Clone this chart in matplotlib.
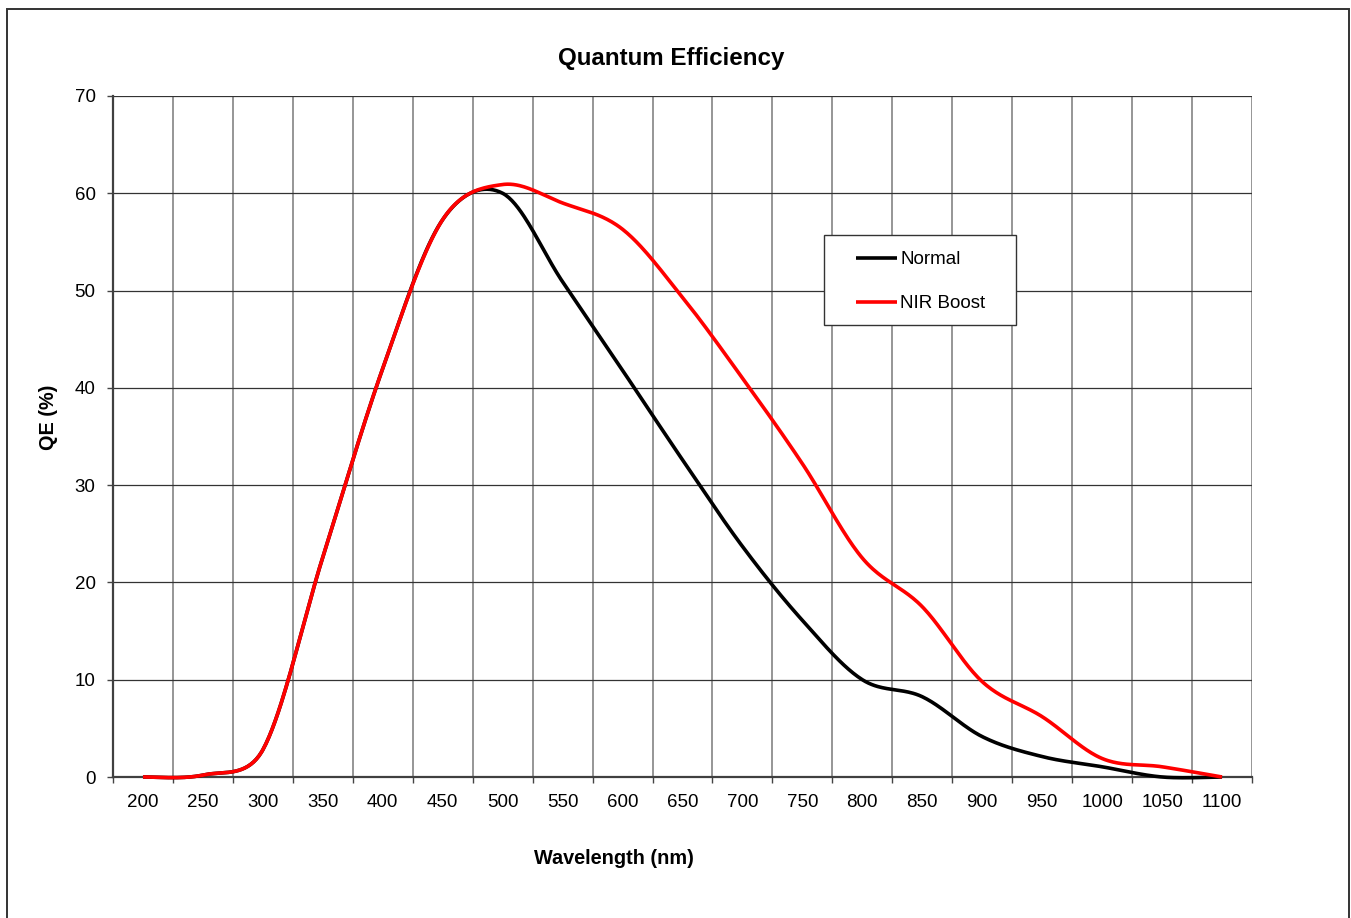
"""Quantum efficiency curves for the Normal and NIR Boost sensor variants."""

import numpy as np
import matplotlib.pyplot as plt
from matplotlib.patches import Rectangle
from matplotlib.ticker import MultipleLocator, FixedLocator

plt.rcParams['font.family'] = ['Liberation Sans', 'DejaVu Sans']

# Wavelength categories (nm) and QE values (%) for each variant
wavelength = [200, 250, 300, 350, 400, 450, 500, 550, 600, 650,
              700, 750, 800, 850, 900, 950, 1000, 1050, 1100]
qe_normal = [0.0, 0.2, 2.8, 22.6, 42.0, 57.3, 60.0, 50.9, 41.8, 32.6,
             23.7, 16.1, 10.0, 8.25, 4.15, 2.1, 1.05, 0.0, 0.0]
qe_nir = [0.0, 0.2, 2.8, 22.6, 42.0, 57.3, 60.9, 59.0, 56.3, 49.3,
          41.0, 32.2, 22.5, 17.5, 9.8, 6.2, 1.9, 1.05, 0.0]
series_names = ['Normal', 'NIR Boost']
series_colors = ['black', '#ff0000']


def smooth_curve(ax, x, y, steps=40):
    """Spreadsheet-style smoothed line: cubic Bezier segments built in screen
    space, control arms at 1/6 of the neighbour span but never longer than
    half of the segment itself."""
    pts = ax.transData.transform(np.column_stack([x, y]).astype(float))
    n = len(pts)
    t = np.linspace(0, 1, steps)[:, None]
    out = []
    for i in range(n - 1):
        p1, p2 = pts[i], pts[i + 1]
        p0 = pts[i - 1] if i > 0 else p1
        p3 = pts[i + 2] if i + 2 < n else p2
        d12 = np.hypot(*(p2 - p1))
        d02 = np.hypot(*(p2 - p0))
        d13 = np.hypot(*(p3 - p1))
        f0 = 1 / 6 if d02 / 6 < d12 / 2 else d12 / (2 * d02)
        f3 = 1 / 6 if d13 / 6 < d12 / 2 else d12 / (2 * d13)
        c1 = p1 + f0 * (p2 - p0)
        c2 = p2 - f3 * (p3 - p1)
        seg = ((1 - t) ** 3) * p1 + 3 * ((1 - t) ** 2) * t * c1 \
            + 3 * (1 - t) * t ** 2 * c2 + t ** 3 * p2
        out.append(seg if i == 0 else seg[1:])
    out = ax.transData.inverted().transform(np.vstack(out))
    return out[:, 0], out[:, 1]


W, H = 1351, 918
fig = plt.figure(figsize=(W / 100, H / 100), dpi=100)
ax = fig.add_axes([113 / W, 1 - 777 / H, (1252 - 113) / W, (777 - 96) / H])
ax.set_xlim(175, 1125)
ax.set_ylim(0, 70)

for name, vals, col in zip(series_names, [qe_normal, qe_nir], series_colors):
    sx, sy = smooth_curve(ax, wavelength, vals)
    ax.plot(sx, sy, color=col, lw=2.6, label=name, zorder=3,
            solid_capstyle='butt', clip_on=False)

# labels sit on the categories, gridlines fall between them
ax.xaxis.set_major_locator(FixedLocator(wavelength))
ax.xaxis.set_minor_locator(MultipleLocator(50, offset=25))
ax.yaxis.set_major_locator(MultipleLocator(10))
ax.tick_params(axis='x', which='major', length=0, pad=12, labelsize=13.5)
ax.tick_params(axis='x', which='minor', length=4.5, width=1, color='#444444',
               direction='out')
ax.tick_params(axis='y', which='major', length=4.5, width=1, color='#444444',
               pad=8, labelsize=13.5, direction='out')

ax.grid(True, axis='x', which='minor', color='#969696', lw=1.4)
ax.grid(True, axis='y', which='major', color='#333333', lw=0.9)
ax.set_axisbelow(True)

for side in ['top', 'right']:
    ax.spines[side].set_visible(False)
for side in ['left', 'bottom']:
    ax.spines[side].set_color('#404040')
    ax.spines[side].set_linewidth(1.6)

fig.text(671.5 / W, 1 - 58 / H, 'Quantum Efficiency', ha='center', va='center',
         fontsize=17.4, fontweight='bold')
fig.text(614 / W, 1 - 858 / H, 'Wavelength (nm)', ha='center', va='center',
         fontsize=14.3, fontweight='bold')
fig.text(48 / W, 1 - 417.5 / H, 'QE (%)', ha='center', va='center',
         rotation=90, fontsize=14.3, fontweight='bold')

# legend box and entries
fig.add_artist(Rectangle((824 / W, 1 - 325 / H), 192 / W, 90 / H,
                         transform=fig.transFigure, facecolor='white',
                         edgecolor='#333333', lw=1, zorder=1))
handles, labels = ax.get_legend_handles_labels()
leg = fig.legend(handles, labels, loc='upper left',
                 bbox_to_anchor=(856 / W, 1 - 251 / H), frameon=False,
                 fontsize=13.5, handlelength=2.2, handletextpad=0.15,
                 labelspacing=1.43, borderpad=0, borderaxespad=0)
leg.set_zorder(2)

# outer chart border
fig.add_artist(Rectangle((6.5 / W, -0.01), (1349 - 6.5) / W, 1 - 9.5 / H + 0.01,
                         transform=fig.transFigure, fill=False,
                         edgecolor='#333333', lw=1.4, zorder=0))

fig.savefig('out.png', dpi=100)
